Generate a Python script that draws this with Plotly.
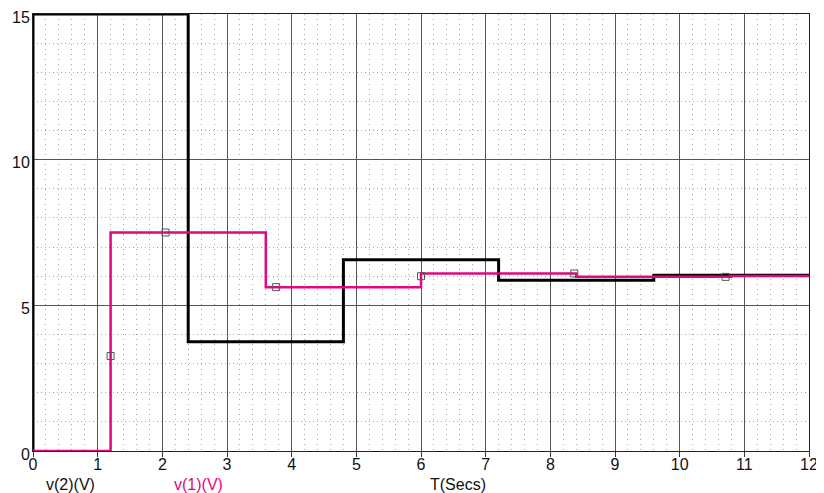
import plotly.graph_objects as go

# v(2) black step trace
t_v2 = [0, 0, 2.4, 4.8, 7.2, 9.6, 12]
v2 = [0, 15, 3.75, 6.5625, 5.859, 6.035, 6.035]

# v(1) magenta step trace
t_v1 = [0, 1.2, 3.6, 6.0, 8.4, 10.8, 12]
v1 = [0, 7.5, 5.625, 6.094, 5.977, 6.006, 6.006]

# marker positions on v(1)
t_mk = [1.2, 2.05, 3.76, 6.0, 8.37, 10.71]
v_mk = [3.26, 7.5, 5.625, 6.0, 6.094, 5.977]

x_ticks = list(range(0, 13))
y_ticks = [0, 5, 10, 15]

MAGENTA = "#E2077E"
FONT = "Liberation Sans, Arial, sans-serif"

fig = go.Figure()
fig.add_trace(go.Scatter(x=t_v2, y=v2, mode="lines", line=dict(color="#000000", width=3, shape="hv"),
                         showlegend=False, hoverinfo="skip"))
fig.add_trace(go.Scatter(x=t_v1, y=v1, mode="lines", line=dict(color=MAGENTA, width=2.5, shape="hv"),
                         showlegend=False, hoverinfo="skip"))
fig.add_trace(go.Scatter(x=t_mk, y=v_mk, mode="markers",
                         marker=dict(symbol="square-open", size=7, color="#555555", line=dict(width=1)),
                         showlegend=False, hoverinfo="skip"))

fig.update_layout(
    width=816, height=485,
    margin=dict(l=25, r=15, t=6, b=42, autoexpand=False),
    paper_bgcolor="white", plot_bgcolor="white",
    font=dict(family=FONT, size=16, color="#111111"),
    xaxis=dict(range=[0, 12], tickvals=x_ticks, ticktext=[str(v) for v in x_ticks],
               showgrid=True, gridcolor="#555555", gridwidth=1,
               minor=dict(dtick=0.2, tick0=0, showgrid=True, gridcolor="#a8a8a8", griddash="1px,4px", gridwidth=1),
               ticks="outside", ticklen=5, tickcolor="#333333",
               showline=True, linecolor="#222222", linewidth=1, mirror=True,
               zeroline=False, tickfont=dict(size=16), automargin=False, ticklabelstandoff=-6,
               ticklabeloverflow="allow"),
    yaxis=dict(range=[0, 15], tickvals=y_ticks, ticktext=[str(v) for v in y_ticks],
               showgrid=True, gridcolor="#555555", gridwidth=1,
               minor=dict(dtick=1, tick0=0, showgrid=True, gridcolor="#a8a8a8", griddash="1px,3px", gridwidth=1),
               ticks="", showline=True, linecolor="#222222", linewidth=1, mirror=True,
               zeroline=False, tickfont=dict(size=16), automargin=False, ticklabelstandoff=-1,
               ticklabelshift=3, ticklabeloverflow="allow"),
    annotations=[
        dict(text="v(2)(V)", xref="paper", yref="paper", x=0.0142, y=-0.076, xanchor="left", yanchor="middle",
             showarrow=False, font=dict(size=16, color="#111111")),
        dict(text="v(1)(V)", xref="paper", yref="paper", x=0.179, y=-0.076, xanchor="left", yanchor="middle",
             showarrow=False, font=dict(size=16, color=MAGENTA)),
        dict(text="T(Secs)", xref="paper", yref="paper", x=0.509, y=-0.076, xanchor="left", yanchor="middle",
             showarrow=False, font=dict(size=16, color="#111111")),
    ],
)

fig.write_html("out.html")
